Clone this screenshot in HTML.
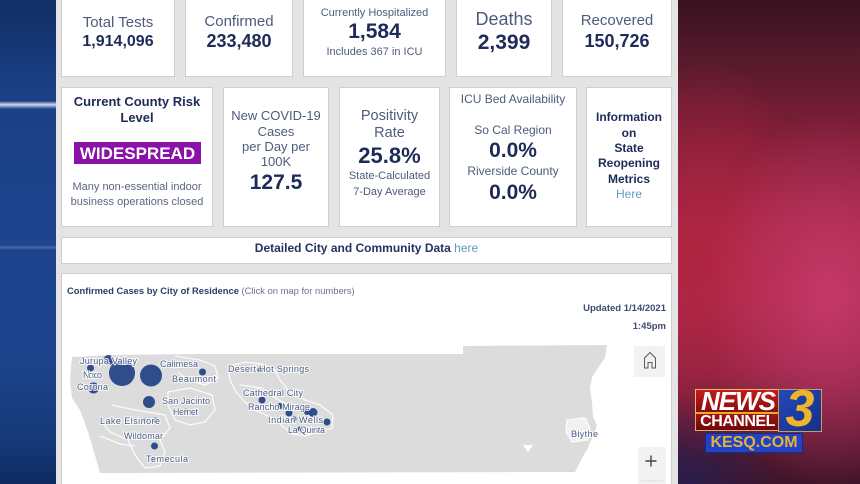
<!DOCTYPE html>
<html><head><meta charset="utf-8">
<style>
*{margin:0;padding:0;box-sizing:border-box}
html,body{width:860px;height:484px;overflow:hidden;background:#e5e5e5}
body{position:relative;font-family:"Liberation Sans",Arial,sans-serif}
.abs{position:absolute}
#left{left:0;top:0;width:56px;height:484px;background:linear-gradient(to bottom,#122e66 0%,#1a3f84 18%,#1d448d 45%,#1c438b 75%,#163878 92%,#0e2a60 100%)}
#streak{left:0;top:101px;width:56px;height:8px;background:linear-gradient(to bottom,rgba(200,215,240,0) 0%,rgba(215,225,245,.95) 45%,rgba(200,215,240,0) 100%)}
#streak2{left:0;top:245px;width:56px;height:5px;background:linear-gradient(to bottom,rgba(120,150,200,0) 0%,rgba(120,150,210,.45) 50%,rgba(120,150,200,0) 100%)}
#dash{left:56px;top:0;width:622px;height:484px;background:#e4e4e4}
#right{left:678px;top:0;width:182px;height:484px;
background:
radial-gradient(ellipse 120px 190px at 150px 300px,rgba(200,58,108,.85),rgba(200,58,108,0) 100%),
radial-gradient(ellipse 110px 200px at 30px 260px,rgba(178,36,62,.8),rgba(178,36,62,0) 100%),
radial-gradient(ellipse 90px 90px at 10px 484px,rgba(40,30,80,.9),rgba(40,30,80,0) 100%),
linear-gradient(to bottom,#3a1220 0%,#561a2c 12%,#7e1e38 28%,#a6284a 48%,#aa2a4e 62%,#8e2444 76%,#5e1a34 90%,#3e1428 100%)}
.card{position:absolute;background:#fff;border:1px solid #cfcfcf}
.t{position:absolute;text-align:center;line-height:1;white-space:nowrap;color:#4f5b7c}
.v{position:absolute;text-align:center;line-height:1;white-space:nowrap;color:#1e2b58;font-weight:bold}
.b{font-weight:bold;color:#1e2b58}
</style></head><body>
<div id="left" class="abs"></div>
<div id="streak" class="abs"></div>
<div id="streak2" class="abs"></div>
<div id="dash" class="abs"></div>
<div id="right" class="abs"></div>

<!-- Row 1 -->
<div class="card" style="left:61px;top:-6px;width:114px;height:83px"></div>
<div class="t" style="left:61px;width:114px;top:15px;font-size:15px">Total Tests</div>
<div class="v" style="left:61px;width:114px;top:34px;font-size:16px">1,914,096</div>

<div class="card" style="left:185px;top:-6px;width:108px;height:83px"></div>
<div class="t" style="left:185px;width:108px;top:14px;font-size:15px">Confirmed</div>
<div class="v" style="left:185px;width:108px;top:31.7px;font-size:18px">233,480</div>

<div class="card" style="left:303px;top:-6px;width:143px;height:83px"></div>
<div class="t" style="left:303px;width:143px;top:7.6px;font-size:11px">Currently Hospitalized</div>
<div class="v" style="left:303px;width:143px;top:21.3px;font-size:21px">1,584</div>
<div class="t" style="left:303px;width:143px;top:46.6px;font-size:11px">Includes 367 in ICU</div>

<div class="card" style="left:456px;top:-6px;width:96px;height:83px"></div>
<div class="t" style="left:456px;width:96px;top:9.7px;font-size:18px">Deaths</div>
<div class="v" style="left:456px;width:96px;top:32.3px;font-size:21px">2,399</div>

<div class="card" style="left:562px;top:-6px;width:110px;height:83px"></div>
<div class="t" style="left:562px;width:110px;top:13px;font-size:15px">Recovered</div>
<div class="v" style="left:562px;width:110px;top:31.7px;font-size:18px">150,726</div>

<!-- Row 2 -->
<div class="card" style="left:61px;top:87px;width:152px;height:140px"></div>
<div class="t b" style="left:61px;width:152px;top:95.3px;font-size:13px">Current County Risk</div>
<div class="t b" style="left:61px;width:152px;top:111.3px;font-size:13px">Level</div>
<div class="abs" style="left:74px;top:142px;width:127px;height:22px;background:#8b12a8"></div>
<div class="t" style="left:74px;width:127px;top:144.5px;font-size:17px;font-weight:bold;color:#fff">WIDESPREAD</div>
<div class="t" style="left:61px;width:152px;top:181.6px;font-size:11px;color:#5a6682">Many non-essential indoor</div>
<div class="t" style="left:61px;width:152px;top:196.6px;font-size:11px;color:#5a6682">business operations closed</div>

<div class="card" style="left:223px;top:87px;width:106px;height:140px"></div>
<div class="t" style="left:223px;width:106px;top:109.3px;font-size:13px">New COVID-19</div>
<div class="t" style="left:223px;width:106px;top:125px;font-size:13px">Cases</div>
<div class="t" style="left:223px;width:106px;top:140px;font-size:13px">per Day per</div>
<div class="t" style="left:223px;width:106px;top:155px;font-size:13px">100K</div>
<div class="v" style="left:223px;width:106px;top:172.3px;font-size:21px">127.5</div>

<div class="card" style="left:339px;top:87px;width:101px;height:140px"></div>
<div class="t" style="left:339px;width:101px;top:109px;font-size:14.5px">Positivity</div>
<div class="t" style="left:339px;width:101px;top:126px;font-size:14.5px">Rate</div>
<div class="v" style="left:339px;width:101px;top:145px;font-size:22px">25.8%</div>
<div class="t" style="left:339px;width:101px;top:170.6px;font-size:11px">State-Calculated</div>
<div class="t" style="left:339px;width:101px;top:186.6px;font-size:11px">7-Day Average</div>

<div class="card" style="left:449px;top:87px;width:128px;height:140px"></div>
<div class="t" style="left:449px;width:128px;top:93.4px;font-size:12px">ICU Bed Availability</div>
<div class="t" style="left:449px;width:128px;top:124.4px;font-size:12px">So Cal Region</div>
<div class="v" style="left:449px;width:128px;top:140.3px;font-size:21px">0.0%</div>
<div class="t" style="left:449px;width:128px;top:165.4px;font-size:12px">Riverside County</div>
<div class="v" style="left:449px;width:128px;top:182.3px;font-size:21px">0.0%</div>

<div class="card" style="left:586px;top:87px;width:86px;height:140px"></div>
<div class="t b" style="left:586px;width:86px;top:111.4px;font-size:12px">Information</div>
<div class="t b" style="left:586px;width:86px;top:126.7px;font-size:12px">on</div>
<div class="t b" style="left:586px;width:86px;top:142px;font-size:12px">State</div>
<div class="t b" style="left:586px;width:86px;top:157.3px;font-size:12px">Reopening</div>
<div class="t b" style="left:586px;width:86px;top:172.6px;font-size:12px">Metrics</div>
<div class="t" style="left:586px;width:86px;top:188.4px;font-size:12px;color:#5b9cc4">Here</div>

<!-- Row 3 -->
<div class="card" style="left:61px;top:237px;width:611px;height:27px"></div>
<div class="t" style="left:61px;width:611px;top:242.4px;font-size:12px"><span style="font-weight:bold;color:#25325e">Detailed City and Community Data</span> <span style="color:#5b9cc4">here</span></div>

<!-- Map panel -->
<div class="card" style="left:61px;top:273px;width:611px;height:220px"></div>
<div class="abs" style="left:67px;top:285.8px;font-size:9.4px;line-height:1;white-space:nowrap;color:#6a7390"><span style="font-weight:bold;color:#2e3d68">Confirmed Cases by City of Residence</span> (Click on map for numbers)</div>
<div class="abs" style="left:500px;width:166px;text-align:right;top:303.8px;font-size:9.5px;line-height:1;font-weight:bold;color:#3e4a70">Updated 1/14/2021</div>
<div class="abs" style="left:500px;width:166px;text-align:right;top:321.8px;font-size:9.5px;line-height:1;font-weight:bold;color:#3e4a70">1:45pm</div>

<div class="abs" style="left:634px;top:346px;width:31px;height:31px;background:#f2f2f2"></div>
<div class="abs" style="left:638px;top:447px;width:28px;height:40px;background:#f2f2f2"></div>

<svg class="abs" style="left:0;top:0" width="860" height="484" viewBox="0 0 860 484">
  <path d="M72,357 L110,355 L200,354 L463,354 L463,346 L607,345 L605,358 L598,368 L592,377 L590,388 L592,402 L593,417 L597,425 L594,435 L590,442 L588,448 L582,458 L575,472 L100,473 L95,455 L88,432 L80,410 L72,398 L70,380 Z" fill="#dcdcdc"/>
  <!-- inner boundaries -->
  <g fill="none" stroke="#fff" stroke-width="1.3" stroke-opacity=".85">
    <path d="M228,366 L245,362 L262,364 L275,370 L280,380 L290,392 L305,400 L320,405 L333,415 L332,428 L318,432 L305,436 L292,434 L280,424 L268,416 L255,410 L245,402 L236,392 L230,380 Z"/>
    <path d="M240,385 L262,388 L275,398 L288,405 L300,410 L315,415"/>
    <path d="M168,392 L190,388 L212,395 L215,410 L205,422 L190,425 L175,420 L168,405 Z"/>
    <path d="M175,356 L200,360 L215,366 L218,378 L205,385 L188,380 L178,372"/>
    <path d="M112,405 L135,410 L165,415 L170,428 L160,440 L165,452 L160,466 L145,468 L135,455 L128,440 L110,432 L100,420"/>
    <path d="M100,436 L120,444 L135,446"/>
    <path d="M567,420 L585,418 L590,428 L588,440 L572,442 L566,432 Z"/>
  </g>
  <path d="M567,420 L585,418 L590,428 L588,440 L572,442 L566,432 Z" fill="#fff" fill-opacity=".6"/>
  <path d="M523,445 L533,445 L528,452 Z" fill="#fff"/>
  <!-- bubbles -->
  <g fill="#2f4d8a">
    <circle cx="122" cy="373" r="13"/>
    <circle cx="151" cy="375.5" r="11"/>
    <circle cx="108.5" cy="360" r="5"/>
    <circle cx="90.5" cy="368" r="3.5"/>
    <circle cx="93.5" cy="388" r="5.5"/>
    <circle cx="202.5" cy="372" r="3.5"/>
    <circle cx="175" cy="363" r="2.3"/>
    <circle cx="149" cy="402" r="6"/>
    <circle cx="186" cy="411" r="2.3"/>
    <circle cx="155" cy="420" r="2.5"/>
    <circle cx="144" cy="420" r="2"/>
    <circle cx="154.5" cy="446" r="3.5"/>
    <circle cx="153" cy="459" r="2.2"/>
    <circle cx="260" cy="370" r="2.5"/>
    <circle cx="262" cy="400" r="3.5"/>
    <circle cx="280" cy="406" r="3"/>
    <circle cx="289" cy="413" r="3.5"/>
    <circle cx="313" cy="412.5" r="4.5"/>
    <circle cx="307" cy="412" r="3"/>
    <circle cx="294" cy="419" r="2.5"/>
    <circle cx="327" cy="422" r="3.5"/>
    <circle cx="300" cy="429" r="2.5"/>
    <circle cx="577" cy="434" r="2"/>
  </g>
  <g font-family="Liberation Sans, Arial, sans-serif" font-size="9" fill="#4a5a84" stroke="#fff" stroke-width="2" stroke-opacity=".85" paint-order="stroke" lengthAdjust="spacing">
    <text x="80" y="364" textLength="57">Jurupa Valley</text>
    <text x="160" y="367" textLength="38">Calimesa</text>
    <text x="83" y="378" textLength="19">Norco</text>
    <text x="172" y="382" textLength="44">Beaumont</text>
    <text x="77" y="390" textLength="31">Corona</text>
    <text x="228" y="372" textLength="81">Desert Hot Springs</text>
    <text x="243" y="396" textLength="60">Cathedral City</text>
    <text x="162" y="404" textLength="48">San Jacinto</text>
    <text x="248" y="410" textLength="62">Rancho Mirage</text>
    <text x="173" y="415" textLength="25">Hemet</text>
    <text x="268" y="423" textLength="55">Indian Wells</text>
    <text x="100" y="424" textLength="60">Lake Elsinore</text>
    <text x="288" y="433" textLength="37">La Quinta</text>
    <text x="124" y="439" textLength="39">Wildomar</text>
    <text x="146" y="462" textLength="42">Temecula</text>
    <text x="571" y="437" textLength="27">Blythe</text>
  </g>
  <!-- home icon -->
  <path d="M644.5,368 V358 L650,352.5 L655.5,358 V368 H652 V362.5 H648 V368 Z" fill="none" stroke="#5a5a5a" stroke-width="1"/>
  <!-- plus -->
  <path d="M645.5,461 H656.5 M651,455.5 V466.5" stroke="#444" stroke-width="1.4"/>
  <path d="M641,481 H663" stroke="#dcdcdc" stroke-width="1"/>
</svg>

<!-- Logo -->
<div class="abs" style="left:695px;top:389px;width:85px;height:23px;background:linear-gradient(to bottom,#c41c1c,#8a0c0c);border:1px solid #e8c070;border-bottom:none"></div>
<div class="abs" style="left:695px;top:412px;width:85px;height:2px;background:#e8b020"></div>
<div class="abs" style="left:695px;top:414px;width:85px;height:17px;background:linear-gradient(to bottom,#a01414,#700808);border:1px solid #d8b070;border-top:none"></div>
<div class="abs" style="left:697px;top:387.5px;width:82px;text-align:center;font-size:26px;line-height:1;font-weight:bold;font-style:italic;color:#fff;letter-spacing:-1px">NEWS</div>
<div class="abs" style="left:695px;top:413.5px;width:85px;text-align:center;font-size:16px;line-height:1;font-weight:bold;color:#fff;letter-spacing:-.5px">CHANNEL</div>
<div class="abs" style="left:778px;top:389px;width:44px;height:43px;background:linear-gradient(135deg,#2548b8,#14308c);border:1px solid #c8a050"></div>
<div class="abs" style="left:778px;top:383px;width:44px;text-align:center;font-size:52px;line-height:1;font-weight:bold;font-style:italic;color:#f0b428">3</div>
<div class="abs" style="left:705px;top:433px;width:98px;height:20px;background:#2242c8;border:1px solid #1a2a80"></div>
<div class="abs" style="left:705px;top:435.3px;width:98px;text-align:center;font-size:16px;line-height:1;font-weight:bold;color:#e4b434">KESQ.COM</div>
</body></html>
